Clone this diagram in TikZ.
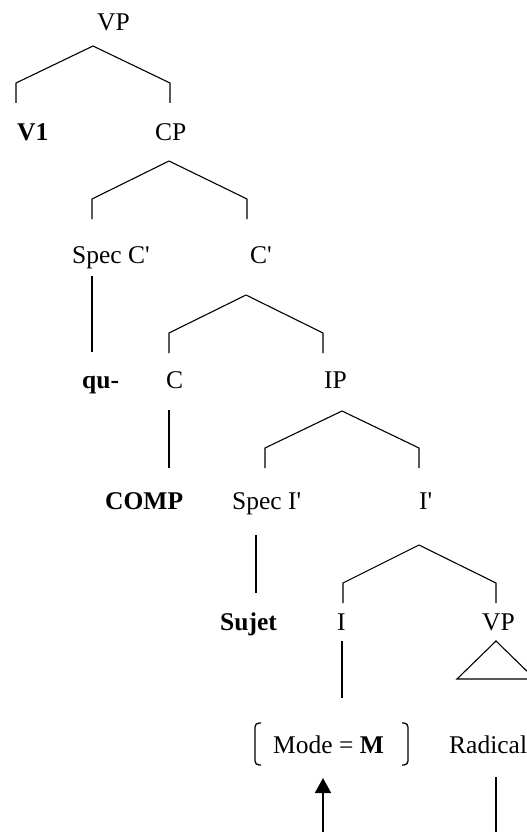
\documentclass[tikz,border=0pt]{standalone}
\usepackage{fontspec}
\setmainfont{Liberation Serif}[Ligatures=TeXOff]
\usetikzlibrary{arrows.meta}
\begin{document}
\begin{tikzpicture}[x=1pt,y=-1pt,
  lbl/.style={anchor=base west,inner sep=0pt,font=\fontsize{25.5}{30}\selectfont},
  blbl/.style={lbl,font=\fontsize{25.5}{30}\selectfont\bfseries},
  edge/.style={draw,line width=1.1pt,line join=miter},
  brk/.style={draw,line width=1.3pt,rounded corners=4pt}]
\useasboundingbox (0,0) rectangle (527,832);
% labels
\node[lbl]  (vp0)  at (97,31)  {VP};
\node[blbl] (v1)   at (17,140) {V1};
\node[lbl]  (cp)   at (155,140) {CP};
\node[lbl]  (specc) at (72,263) {Spec C'};
\node[lbl]  (cbar) at (250,263) {C'};
\node[blbl] (qu)   at (82,388) {qu-};
\node[lbl]  (c)    at (166,388) {C};
\node[lbl]  (ip)   at (324,388) {IP};
\node[blbl] (comp) at (105,509) {COMP};
\node[lbl]  (speci) at (232,509) {Spec I'};
\node[lbl]  (ibar) at (419,509) {I'};
\node[blbl] (sujet) at (220,630) {Sujet};
\node[lbl]  (i)    at (337,630) {I};
\node[lbl]  (vp2)  at (482,630) {VP};
\node[lbl]  (mode) at (273,753) {Mode = \textbf{M}};
\node[lbl]  (rad)  at (449,753) {Radical};
% branch points
\coordinate (a1) at (16,103);  \coordinate (a2) at (16,83);  \coordinate (a3) at (93,46);
\coordinate (a4) at (170,83);  \coordinate (a5) at (170,103);
\coordinate (b1) at (92,219);  \coordinate (b2) at (92,199); \coordinate (b3) at (169,161);
\coordinate (b4) at (247,199); \coordinate (b5) at (247,219);
\coordinate (s1) at (92,276);  \coordinate (s2) at (92,352);
\coordinate (c1) at (169,353); \coordinate (c2) at (169,333); \coordinate (c3) at (246,295);
\coordinate (c4) at (323,333); \coordinate (c5) at (323,353);
\coordinate (d1) at (169,410); \coordinate (d2) at (169,468);
\coordinate (e1) at (265,468); \coordinate (e2) at (265,448); \coordinate (e3) at (342,411);
\coordinate (e4) at (419,448); \coordinate (e5) at (419,468);
\coordinate (f1) at (256,535); \coordinate (f2) at (256,593);
\coordinate (g1) at (343,603); \coordinate (g2) at (343,583); \coordinate (g3) at (419,545);
\coordinate (g4) at (496,583); \coordinate (g5) at (496,603);
\coordinate (h1) at (342,641); \coordinate (h2) at (342,698);
\coordinate (t1) at (496,641); \coordinate (t2) at (457,679); \coordinate (t3) at (535,679);
\coordinate (arrfoot) at (323,840); \coordinate (arrtip) at (323,778);
\coordinate (r1) at (496,777); \coordinate (r2) at (496,840);
% connectors
\path[edge] (a1) -- (a2) -- (a3) -- (a4) -- (a5);
\path[edge] (b1) -- (b2) -- (b3) -- (b4) -- (b5);
\path[edge] (s1) -- (s2);
\path[edge] (c1) -- (c2) -- (c3) -- (c4) -- (c5);
\path[edge] (d1) -- (d2);
\path[edge] (e1) -- (e2) -- (e3) -- (e4) -- (e5);
\path[edge] (f1) -- (f2);
\path[edge] (g1) -- (g2) -- (g3) -- (g4) -- (g5);
\path[edge] (h1) -- (h2);
\path[edge] (t1) -- (t2) -- (t3) -- cycle;
% brackets
\path[brk] (261,723) -- (255,723) -- (255,765) -- (261,765);
\path[brk] (402,723) -- (408,723) -- (408,765) -- (402,765);
% arrow and bottom line
\draw[line width=1.8pt,-{Triangle[length=15pt,width=16pt]}] (arrfoot) -- (arrtip);
\draw[line width=1.8pt] (r1) -- (r2);
\end{tikzpicture}
\end{document}
